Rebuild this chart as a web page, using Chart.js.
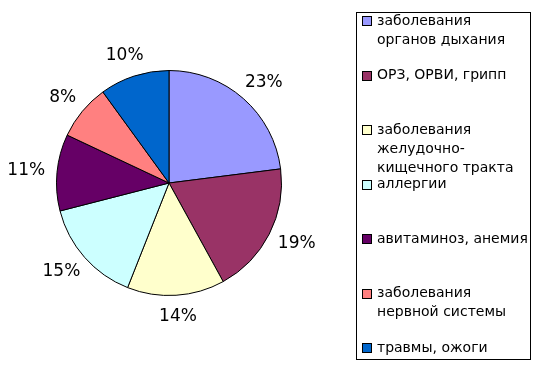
<!DOCTYPE html>
<html>
<head>
<meta charset="utf-8">
<script src="https://cdn.jsdelivr.net/npm/chart.js@4"></script>
<style>
  html, body { margin: 0; padding: 0; background: #fff; }
  #wrap { width: 550px; height: 365px; }
</style>
</head>
<body>
<div id="wrap"><canvas id="pie"></canvas></div>
<script>
"use strict";

// data
const labels = [
    ['заболевания', 'органов дыхания'],
    ['ОРЗ, ОРВИ, грипп'],
    ['заболевания', 'желудочно-', 'кищечного тракта'],
    ['аллергии'],
    ['авитаминоз, анемия'],
    ['заболевания', 'нервной системы'],
    ['травмы, ожоги']
];
const percents = [23, 19, 14, 15, 11, 8, 10];
const colors = ['#9999FF', '#993366', '#FFFFCC', '#CCFFFF', '#660066', '#FF8080', '#0066CC'];

const FONT = '"DejaVu Sans", Verdana, sans-serif';

// percent labels just outside the pie
const pctLabels = {
    id: 'pctLabels',
    afterDatasetsDraw(chart) {
        const ctx = chart.ctx;
        const meta = chart.getDatasetMeta(0);
        ctx.save();
        ctx.font = '17px ' + FONT;
        ctx.fillStyle = '#000';
        ctx.textAlign = 'center';
        ctx.textBaseline = 'middle';
        meta.data.forEach(function(arc, i) {
            const p = arc.getProps(['x', 'y', 'startAngle', 'endAngle', 'outerRadius']);
            const a = (p.startAngle + p.endAngle) / 2;
            const dx = Math.cos(a), dy = Math.sin(a);
            const txt = percents[i] + '%';
            const w = ctx.measureText(txt).width;
            const r = p.outerRadius + 12;
            const x = p.x + dx * r + dx * w / 2;
            const y = p.y + dy * r + dy * 9;
            ctx.fillText(txt, x, y);
        });
        ctx.restore();
    }
};

// Excel style boxed legend on the right
const boxLegend = {
    id: 'boxLegend',
    afterDraw(chart) {
        const ctx = chart.ctx;
        ctx.save();
        ctx.strokeStyle = '#000';
        ctx.lineWidth = 1;
        ctx.strokeRect(356.5, 12.5, 174, 347);
        ctx.font = '14px ' + FONT;
        ctx.textBaseline = 'middle';
        ctx.textAlign = 'left';
        labels.forEach(function(lines, i) {
            const cy = 21 + i * 54.5;
            ctx.fillStyle = colors[i];
            ctx.fillRect(362.5, Math.round(cy) - 4.5, 9, 9);
            ctx.strokeRect(362.5, Math.round(cy) - 4.5, 9, 9);
            ctx.fillStyle = '#000';
            lines.forEach(function(line, j) {
                ctx.fillText(line, 377, cy + j * 19);
            });
        });
        ctx.restore();
    }
};

new Chart(document.getElementById('pie'), {
    type: 'pie',
    data: {
        labels: labels,
        datasets: [{
            data: percents,
            backgroundColor: colors,
            borderColor: '#000',
            borderWidth: 1
        }]
    },
    options: {
        responsive: true,
        maintainAspectRatio: false,
        animation: false,
        layout: {
            padding: { left: 56, right: 268, top: 70, bottom: 69 }
        },
        plugins: {
            legend: { display: false },
            tooltip: { enabled: false }
        }
    },
    plugins: [pctLabels, boxLegend]
});
</script>
</body>
</html>
